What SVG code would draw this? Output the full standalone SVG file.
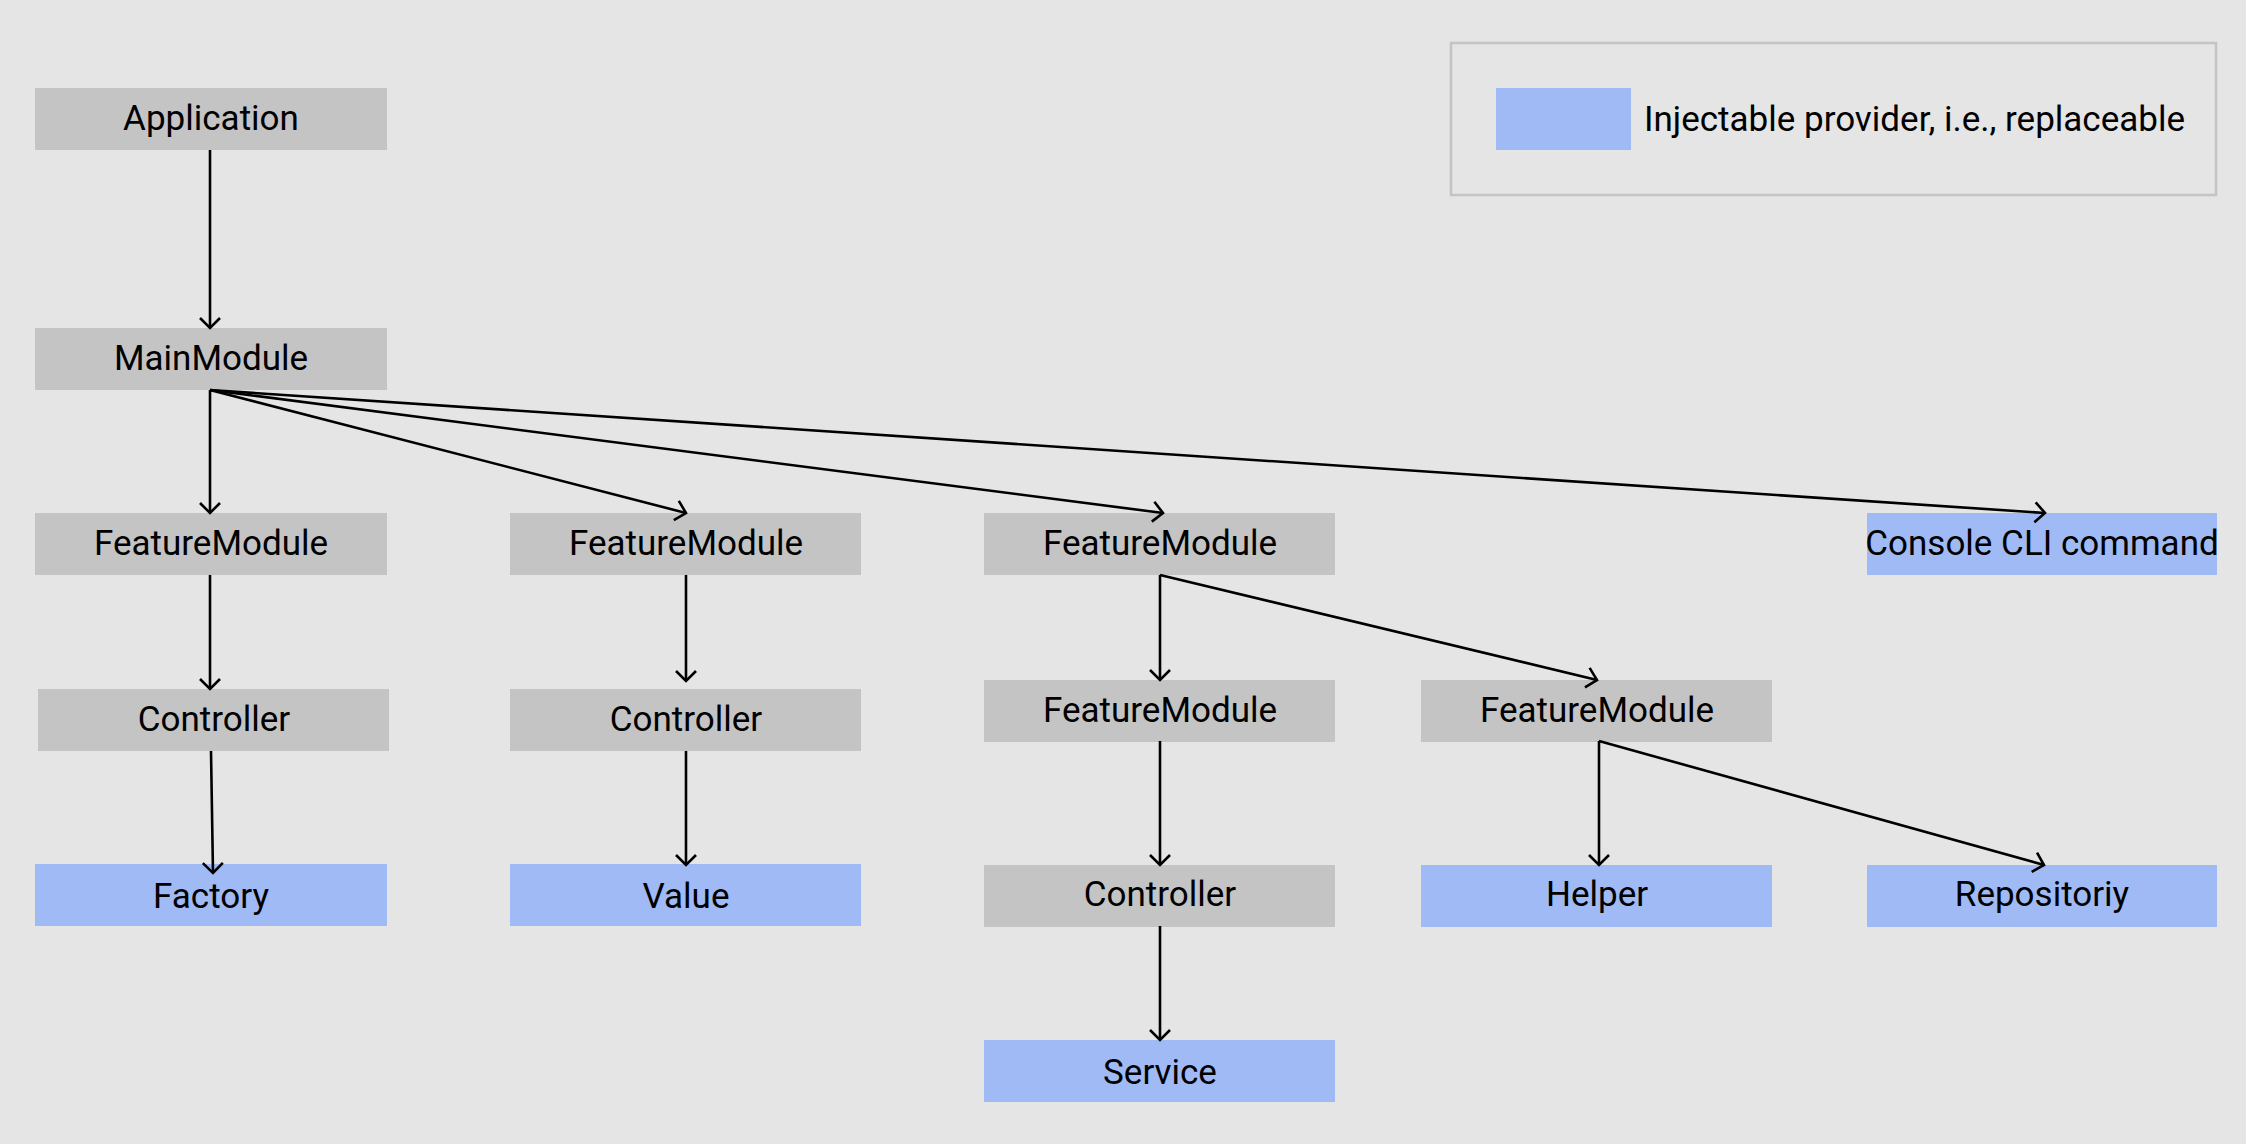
<svg xmlns="http://www.w3.org/2000/svg" width="2246" height="1144" viewBox="0 0 2246 1144">
<style>
.n{fill:#c4c4c4}
.p{fill:#9fbaf5}
text{font-family:Roboto,"Liberation Sans",sans-serif;font-size:35px;fill:#000;text-anchor:middle}
.e{fill:none;stroke:#000;stroke-width:2.6;marker-end:url(#a)}
</style>
<defs>
<marker id="a" markerUnits="userSpaceOnUse" viewBox="0 -12 14 24" refX="12" refY="0" markerWidth="14" markerHeight="24" orient="auto">
<path d="M2,-10 L12,0 L2,10" fill="none" stroke="#000" stroke-width="2.6"/>
</marker>
</defs>
<rect width="2246" height="1144" fill="#e5e5e5"/>
<g id="legend">
<rect x="1451" y="43" width="765" height="152" fill="none" stroke="#c4c4c4" stroke-width="2.5"/>
<rect x="1496" y="88" width="135" height="62" class="p"/>
<text x="1644" y="131" style="text-anchor:start">Injectable provider, i.e., replaceable</text>
</g>
<g id="application"><rect class="n" x="35" y="88" width="352" height="62"/><text x="211" y="130">Application</text></g>
<g id="mainmodule"><rect class="n" x="35" y="328" width="352" height="62"/><text x="211" y="370">MainModule</text></g>
<g id="featuremodule1"><rect class="n" x="35" y="513" width="352" height="62"/><text x="211" y="555">FeatureModule</text></g>
<g id="featuremodule2"><rect class="n" x="510" y="513" width="351" height="62"/><text x="686" y="555">FeatureModule</text></g>
<g id="featuremodule3"><rect class="n" x="984" y="513" width="351" height="62"/><text x="1160" y="555">FeatureModule</text></g>
<g id="console"><rect class="p" x="1867" y="513" width="350" height="62"/><text x="2042" y="555">Console CLI command</text></g>
<g id="controller1"><rect class="n" x="38" y="689" width="351" height="62"/><text x="214" y="731">Controller</text></g>
<g id="controller2"><rect class="n" x="510" y="689" width="351" height="62"/><text x="686" y="731">Controller</text></g>
<g id="featuremodule4"><rect class="n" x="984" y="680" width="351" height="62"/><text x="1160" y="722">FeatureModule</text></g>
<g id="featuremodule5"><rect class="n" x="1421" y="680" width="351" height="62"/><text x="1597" y="722">FeatureModule</text></g>
<g id="factory"><rect class="p" x="35" y="864" width="352" height="62"/><text x="211" y="908">Factory</text></g>
<g id="value"><rect class="p" x="510" y="864" width="351" height="62"/><text x="686" y="908">Value</text></g>
<g id="controller3"><rect class="n" x="984" y="865" width="351" height="62"/><text x="1160" y="906">Controller</text></g>
<g id="helper"><rect class="p" x="1421" y="865" width="351" height="62"/><text x="1597" y="906">Helper</text></g>
<g id="repositoriy"><rect class="p" x="1867" y="865" width="350" height="62"/><text x="2042" y="906">Repositoriy</text></g>
<g id="service"><rect class="p" x="984" y="1040" width="351" height="62"/><text x="1160" y="1084">Service</text></g>
<g id="connectors">
<path class="e" d="M210,150 L210,328"/>
<path class="e" d="M210,390 L210,513"/>
<path class="e" d="M210,390 L686,513"/>
<path class="e" d="M210,390 L1163,513"/>
<path class="e" d="M210,390 L2045,513"/>
<path class="e" d="M210,575 L210,689"/>
<path class="e" d="M211,751 L213,873"/>
<path class="e" d="M686,575 L686,681"/>
<path class="e" d="M686,751 L686,865"/>
<path class="e" d="M1160,575 L1160,680"/>
<path class="e" d="M1160,575 L1597,680"/>
<path class="e" d="M1160,741 L1160,865"/>
<path class="e" d="M1160,926 L1160,1040"/>
<path class="e" d="M1599,741 L1599,865"/>
<path class="e" d="M1599,741 L2044,865"/>
</g>
</svg>
